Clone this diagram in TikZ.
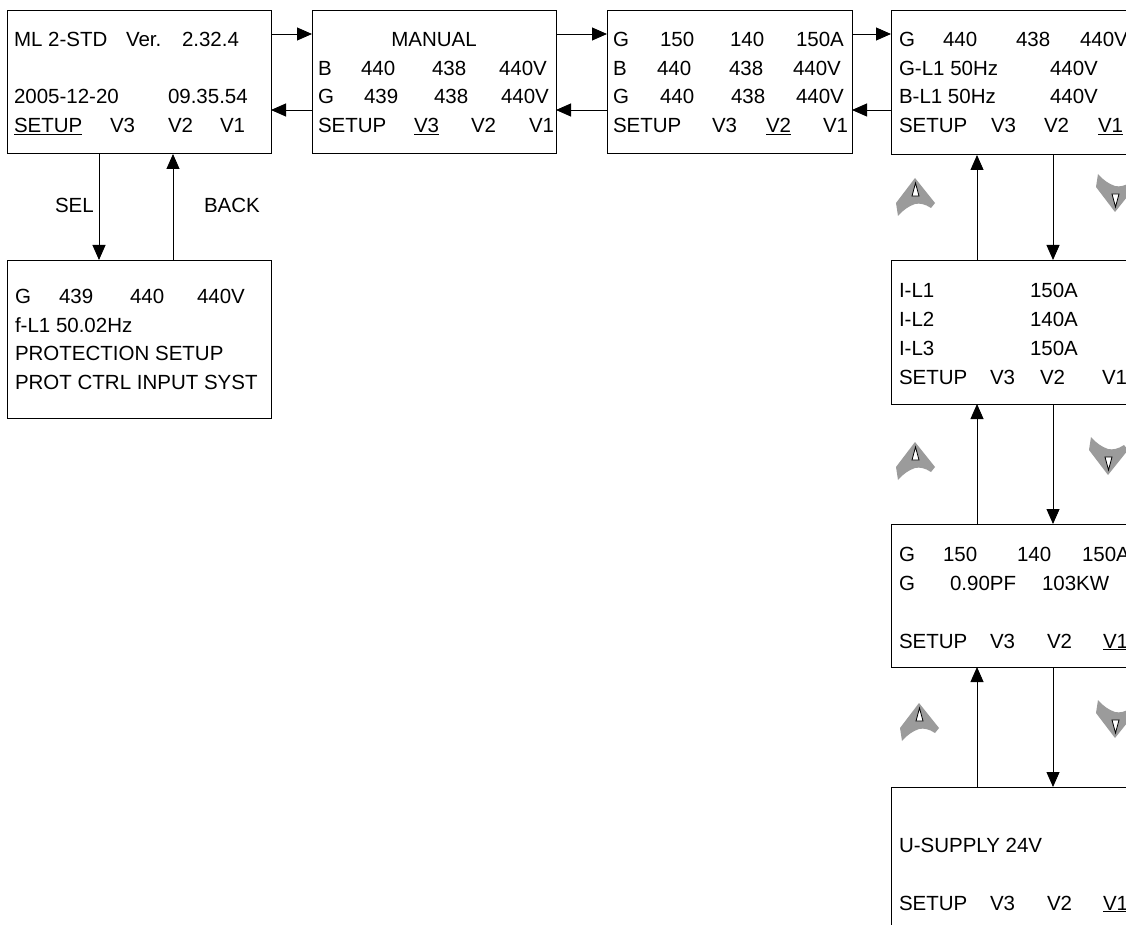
\documentclass[tikz,border=0pt]{standalone}
\usepackage{fontspec}
\setmainfont{Liberation Sans}
\usetikzlibrary{arrows.meta}
\definecolor{keygray}{RGB}{155,155,155}
\tikzset{
  box/.style={draw=black, line width=1pt, rectangle, inner sep=0pt, outer sep=0pt, anchor=north west, minimum width=245pt, minimum height=143pt},
  txt/.style={anchor=base west, inner sep=0pt, outer sep=0pt, font=\fontsize{20.5}{29}\selectfont},
  arr/.style={line width=0.9pt, -{Triangle[length=15pt,width=13pt]}},
  upkey/.pic={
    \fill[keygray] (0,-20) -- (20,5) -- (16,10) .. controls (10,6) and (5,5) .. (0,6) .. controls (-6,8) and (-12,12) .. (-17,18) -- (-19,5) -- cycle;
    \draw[fill=white, line width=0.8pt] (0.5,-15) -- (4,-2) -- (-3,-2) -- cycle;
  }
}
\begin{document}
\begin{tikzpicture}[x=1pt,y=-1pt]
\fill[white] (0,0) rectangle (1126,925);
\clip (0,0) rectangle (1126,925);

% boxes
\node[box, minimum width=264pt] (b1) at (7,11) {};
\node[box, minimum width=244pt] (b2) at (312,11) {};
\node[box] (b3) at (607,11) {};
\node[box, minimum height=144pt] (b4) at (891,11) {};
\node[box, minimum height=144pt] (bI) at (891,260) {};
\node[box] (bG) at (891,524) {};
\node[box, minimum height=144pt] (bU) at (891,787) {};
\node[box, minimum width=264pt, minimum height=158pt] (b5) at (7,260) {};

% box 1
\node[txt] (b1a) at (14,47) {ML 2-STD};
\node[txt] (b1b) at (126,47) {Ver.};
\node[txt] (b1c) at (182,47) {2.32.4};
\node[txt] (b1d) at (14,104) {2005-12-20};
\node[txt] (b1e) at (168,104) {09.35.54};
\node[txt] (b1f) at (14,133) {\underline{SETUP}};
\node[txt] (b1g) at (110,133) {V3};
\node[txt] (b1h) at (168,133) {V2};
\node[txt] (b1i) at (220,133) {V1};

% box 2
\node[txt, anchor=base] (b2a) at (434,47) {MANUAL};
\node[txt] (b2b) at (318,76) {B};
\node[txt] (b2c) at (361,76) {440};
\node[txt] (b2d) at (432,76) {438};
\node[txt] (b2e) at (499,76) {440V};
\node[txt] (b2f) at (318,104) {G};
\node[txt] (b2g) at (364,104) {439};
\node[txt] (b2h) at (434,104) {438};
\node[txt] (b2i) at (501,104) {440V};
\node[txt] (b2j) at (318,133) {SETUP};
\node[txt] (b2k) at (414,133) {\underline{V3}};
\node[txt] (b2l) at (471,133) {V2};
\node[txt] (b2m) at (529,133) {V1};

% box 3
\node[txt] (b3a) at (613,47) {G};
\node[txt] (b3b) at (660,47) {150};
\node[txt] (b3c) at (730,47) {140};
\node[txt] (b3d) at (796,47) {150A};
\node[txt] (b3e) at (613,76) {B};
\node[txt] (b3f) at (657,76) {440};
\node[txt] (b3g) at (729,76) {438};
\node[txt] (b3h) at (793,76) {440V};
\node[txt] (b3i) at (613,104) {G};
\node[txt] (b3j) at (660,104) {440};
\node[txt] (b3k) at (731,104) {438};
\node[txt] (b3l) at (796,104) {440V};
\node[txt] (b3m) at (613,133) {SETUP};
\node[txt] (b3n) at (712,133) {V3};
\node[txt] (b3o) at (766,133) {\underline{V2}};
\node[txt] (b3p) at (823,133) {V1};

% box 4
\node[txt] (b4a) at (899,47) {G};
\node[txt] (b4b) at (943,47) {440};
\node[txt] (b4c) at (1016,47) {438};
\node[txt] (b4d) at (1080,47) {440V};
\node[txt] (b4e) at (899,76) {G-L1 50Hz};
\node[txt] (b4f) at (1050,76) {440V};
\node[txt] (b4g) at (899,104) {B-L1 50Hz};
\node[txt] (b4h) at (1050,104) {440V};
\node[txt] (b4i) at (899,133) {SETUP};
\node[txt] (b4j) at (991,133) {V3};
\node[txt] (b4k) at (1044,133) {V2};
\node[txt] (b4l) at (1098,133) {\underline{V1}};

% box I
\node[txt] (bIa) at (899,297) {I-L1};
\node[txt] (bIb) at (1030,297) {150A};
\node[txt] (bIc) at (899,326) {I-L2};
\node[txt] (bId) at (1030,326) {140A};
\node[txt] (bIe) at (899,355) {I-L3};
\node[txt] (bIf) at (1030,355) {150A};
\node[txt] (bIg) at (899,384) {SETUP};
\node[txt] (bIh) at (990,384) {V3};
\node[txt] (bIi) at (1040,384) {V2};
\node[txt] (bIj) at (1102,384) {V1};

% box G
\node[txt] (bGa) at (899,561) {G};
\node[txt] (bGb) at (943,561) {150};
\node[txt] (bGc) at (1017,561) {140};
\node[txt] (bGd) at (1082,561) {150A};
\node[txt] (bGe) at (899,590) {G};
\node[txt] (bGf) at (950,590) {0.90PF};
\node[txt] (bGg) at (1042,590) {103KW};
\node[txt] (bGh) at (899,648) {SETUP};
\node[txt] (bGi) at (990,648) {V3};
\node[txt] (bGj) at (1047,648) {V2};
\node[txt] (bGk) at (1103,648) {\underline{V1}};

% box U
\node[txt] (bUa) at (899,852) {U-SUPPLY 24V};
\node[txt] (bUb) at (899,910) {SETUP};
\node[txt] (bUc) at (990,910) {V3};
\node[txt] (bUd) at (1047,910) {V2};
\node[txt] (bUe) at (1103,910) {\underline{V1}};

% box 5
\node[txt] (b5a) at (15,303) {G};
\node[txt] (b5b) at (59,303) {439};
\node[txt] (b5c) at (130,303) {440};
\node[txt] (b5d) at (197,303) {440V};
\node[txt] (b5e) at (15,332) {f-L1 50.02Hz};
\node[txt] (b5f) at (15,360) {PROTECTION SETUP};
\node[txt] (b5g) at (15,389) {PROT CTRL INPUT SYST};

% labels
\node[txt] (sel) at (55,213) {SEL};
\node[txt] (back) at (204,213) {BACK};

% horizontal arrows
\draw[arr] ([yshift=-23pt]b1.north east) -- ([yshift=-23pt]b2.north west);
\draw[arr] ([yshift=-23pt]b2.north east) -- ([yshift=-23pt]b3.north west);
\draw[arr] ([yshift=-23pt]b3.north east) -- ([yshift=-23pt]b4.north west);
\draw[arr] ([yshift=-99pt]b2.north west) -- ([yshift=-99pt]b1.north east);
\draw[arr] ([yshift=-99pt]b3.north west) -- ([yshift=-99pt]b2.north east);
\draw[arr] ([yshift=-99pt]b4.north west) -- ([yshift=-99pt]b3.north east);

% vertical arrows left
\draw[arr] ([xshift=92pt]b1.south west) -- ([xshift=92pt]b5.north west);
\draw[arr] ([xshift=166pt]b5.north west) -- ([xshift=166pt]b1.south west);

% vertical arrows right
\draw[arr] ([xshift=162pt]b4.south west) -- ([xshift=162pt]bI.north west);
\draw[arr] ([xshift=86pt]bI.north west) -- ([xshift=86pt]b4.south west);
\draw[arr] ([xshift=162pt]bI.south west) -- ([xshift=162pt]bG.north west);
\draw[arr] ([xshift=86pt]bG.north west) -- ([xshift=86pt]bI.south west);
\draw[arr] ([xshift=162pt]bG.south west) -- ([xshift=162pt]bU.north west);
\draw[arr] ([xshift=86pt]bU.north west) -- ([xshift=86pt]bG.south west);

% key glyphs
\pic at (915,198) {upkey};
\pic at (915,462) {upkey};
\pic at (919,723) {upkey};
\pic[yscale=-1] at (1115,192) {upkey};
\pic[yscale=-1] at (1108,455) {upkey};
\pic[yscale=-1] at (1115,718) {upkey};
\end{tikzpicture}
\end{document}
